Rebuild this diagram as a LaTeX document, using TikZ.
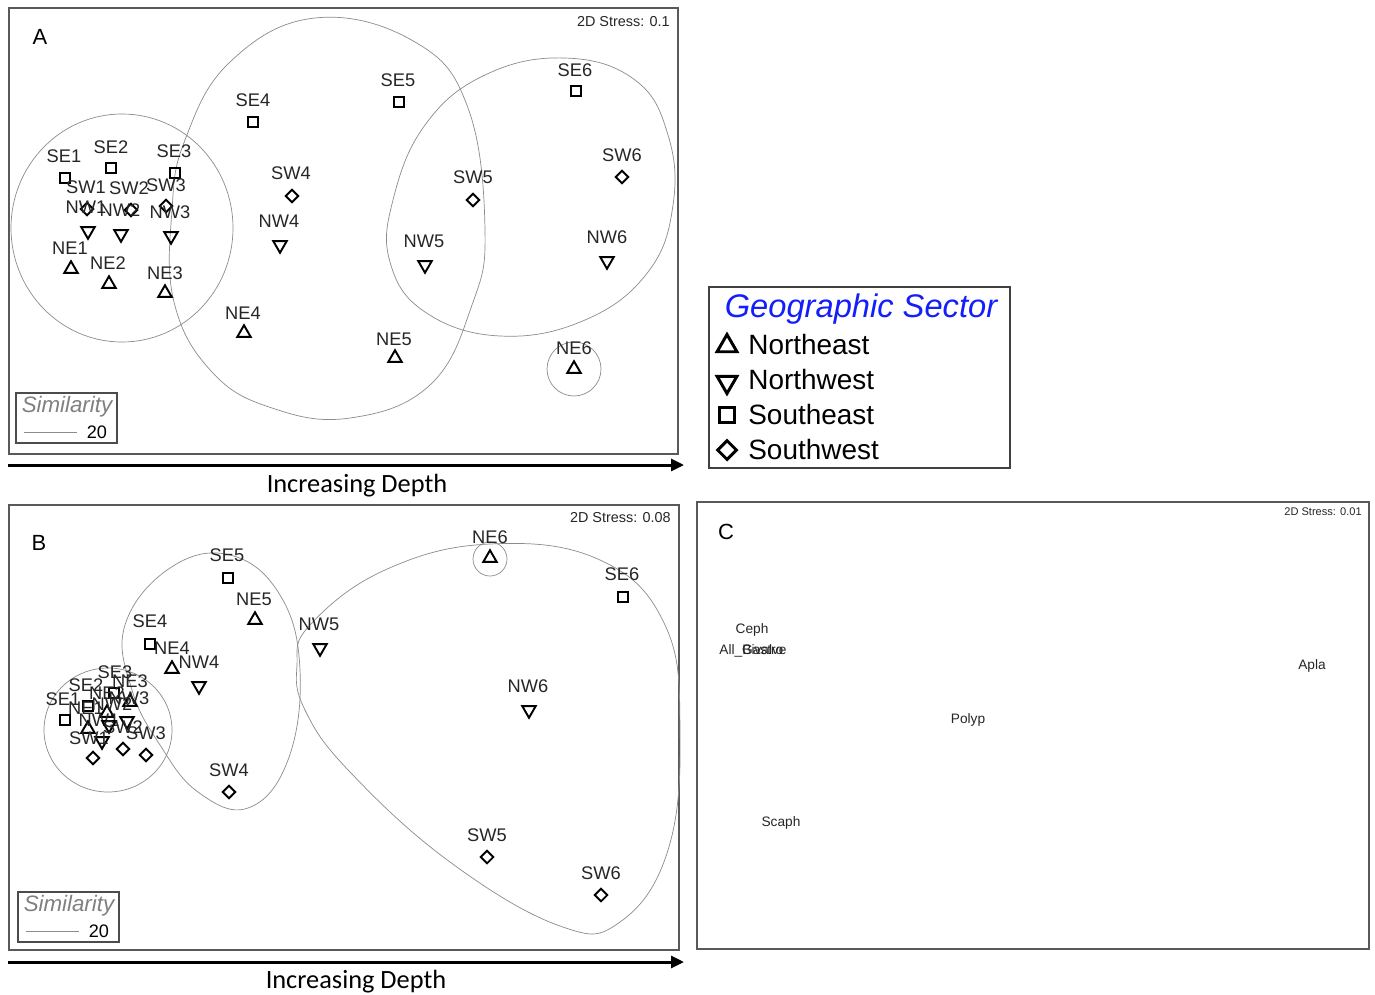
\documentclass[tikz,border=0pt]{standalone}
\usepackage{fontspec}
\setmainfont{Liberation Sans}
\newfontfamily\calfont{Carlito}
\usetikzlibrary{shapes.geometric,arrows.meta}
\definecolor{sectorblue}{RGB}{20,30,250}
\tikzset{
 panel/.style={draw=black!65,line width=0.6pt},
 clus/.style={draw=black!45,line width=0.4pt},
 ne/.style={draw,line width=1.1pt,regular polygon,regular polygon sides=3,minimum size=0.31cm,inner sep=0pt},
 nw/.style={ne,shape border rotate=180},
 se/.style={draw,line width=1.1pt,rectangle,minimum size=0.2cm,inner sep=0pt},
 sw/.style={draw,line width=1.1pt,diamond,minimum size=0.27cm,inner sep=0pt},
 lbl/.style={inner sep=0pt,text=black!85,font=\fontsize{10.4}{12}\selectfont},
 taxon/.style={inner sep=0pt,anchor=base,text=black!85,font=\fontsize{7.8}{9}\selectfont},
 stress/.style={inner sep=0pt,anchor=base east,text=black!85,font=\fontsize{8.2}{10}\selectfont},
 letter/.style={inner sep=0pt,font=\fontsize{12.5}{14}\selectfont},
 depth/.style={line width=1.7pt,-{Triangle[length=0.26cm,width=0.24cm]}},
 depthlbl/.style={inner sep=0pt,anchor=base,font=\calfont\fontsize{15}{18}\selectfont},
 simbox/.style={draw=black!70,line width=0.6pt,minimum width=2.02cm,minimum height=1cm,inner sep=0pt},
 simtxt/.style={inner sep=0pt,anchor=base,text=black!50,font=\fontsize{12.7}{15}\itshape},
 legsym/.style={line width=1.7pt},
 legtxt/.style={inner sep=0pt,anchor=west,font=\fontsize{15.9}{18}\selectfont}
}
\begin{document}
\begin{tikzpicture}[x=0.02cm,y=-0.02cm]
 \useasboundingbox[fill=white] (0,0) rectangle (1375,994);
 % panel A
 \draw[panel] (9,8) rectangle (678,454);
 \node[letter] (a-tag) at (40,37) {A};
 \node[stress] (a-stress) at (670,26) {2D Stress: 0.1};
 \draw[clus] (122,228) ellipse [x radius=111,y radius=114];
 \draw[clus] plot[smooth cycle,tension=0.7] coordinates {(185,140) (230,62) (315,18) (415,42) (468,108) (485,230) (472,305) (430,385) (350,418) (272,408) (212,372) (174,302) (172,210)};
 \draw[clus] plot[smooth cycle,tension=0.7] coordinates {(393,200) (425,125) (485,75) (565,58) (635,80) (668,135) (673,205) (648,272) (585,320) (500,336) (425,312) (390,262)};
 \draw[clus] (574,369) circle [radius=27];
 \node[se] (a-se1) at (65,178) {}; \node[lbl] (a-se1-t) at (64,156) {SE1};
 \node[se] (a-se2) at (111,168) {}; \node[lbl] (a-se2-t) at (111,147) {SE2};
 \node[se] (a-se3) at (175,173) {}; \node[lbl] (a-se3-t) at (174,151) {SE3};
 \node[sw] (a-sw1) at (87,209) {}; \node[lbl] (a-sw1-t) at (86,187) {SW1};
 \node[sw] (a-sw2) at (131,210) {}; \node[lbl] (a-sw2-t) at (129,188) {SW2};
 \node[sw] (a-sw3) at (166,206) {}; \node[lbl] (a-sw3-t) at (166,185) {SW3};
 \node[nw] (a-nw1) at (88,231) {}; \node[lbl] (a-nw1-t) at (86,207) {NW1};
 \node[nw] (a-nw2) at (121,234) {}; \node[lbl] (a-nw2-t) at (120,210) {NW2};
 \node[nw] (a-nw3) at (171,236) {}; \node[lbl] (a-nw3-t) at (170,212) {NW3};
 \node[ne] (a-ne1) at (71,269) {}; \node[lbl] (a-ne1-t) at (70,248) {NE1};
 \node[ne] (a-ne2) at (109,284) {}; \node[lbl] (a-ne2-t) at (108,263) {NE2};
 \node[ne] (a-ne3) at (165,293) {}; \node[lbl] (a-ne3-t) at (165,273) {NE3};
 \node[se] (a-se4) at (253,122) {}; \node[lbl] (a-se4-t) at (253,100) {SE4};
 \node[sw] (a-sw4) at (292,196) {}; \node[lbl] (a-sw4-t) at (291,173) {SW4};
 \node[nw] (a-nw4) at (280,245) {}; \node[lbl] (a-nw4-t) at (279,221) {NW4};
 \node[ne] (a-ne4) at (244,333) {}; \node[lbl] (a-ne4-t) at (243,313) {NE4};
 \node[se] (a-se5) at (399,102) {}; \node[lbl] (a-se5-t) at (398,80) {SE5};
 \node[ne] (a-ne5) at (395,358) {}; \node[lbl] (a-ne5-t) at (394,339) {NE5};
 \node[sw] (a-sw5) at (473,200) {}; \node[lbl] (a-sw5-t) at (473,177) {SW5};
 \node[nw] (a-nw5) at (425,265) {}; \node[lbl] (a-nw5-t) at (424,241) {NW5};
 \node[se] (a-se6) at (576,91) {}; \node[lbl] (a-se6-t) at (575,70) {SE6};
 \node[sw] (a-sw6) at (622,177) {}; \node[lbl] (a-sw6-t) at (622,155) {SW6};
 \node[nw] (a-nw6) at (607,261) {}; \node[lbl] (a-nw6-t) at (607,237) {NW6};
 \node[ne] (a-ne6) at (574,369) {}; \node[lbl] (a-ne6-t) at (574,348) {NE6};
 \node[simbox] (a-sim) at (66.5,418) {};
 \node[simtxt] (a-sim-t) at (67,412) {Similarity};
 \draw[black!45,line width=0.4pt] (24,432) -- (77,432);
 \node[inner sep=0pt,anchor=base,font=\fontsize{10.3}{12}\selectfont] (a-sim-v) at (97,438) {20};
 \coordinate (da0) at (8,465); \coordinate (da1) at (684,465);
 \draw[depth] (da0) -- (da1);
 \node[depthlbl] (da-t) at (357,492) {Increasing Depth};
 % legend
 \draw[panel,draw=black!75] (709,287) rectangle (1010,468);
 \node[inner sep=0pt,anchor=base,text=sectorblue,font=\fontsize{18.6}{22}\itshape] (leg-t) at (861,317) {Geographic Sector};
 \node[ne,legsym,minimum size=0.46cm] (leg-ne) at (727,346) {}; \node[legtxt] (leg-ne-t) at (748,345) {Northeast};
 \node[nw,legsym,minimum size=0.46cm] (leg-nw) at (727,382) {}; \node[legtxt] (leg-nw-t) at (748,380) {Northwest};
 \node[se,legsym,minimum size=0.3cm] (leg-se) at (727,415) {}; \node[legtxt] (leg-se-t) at (748,415) {Southeast};
 \node[sw,legsym,minimum size=0.4cm] (leg-sw) at (727,450) {}; \node[legtxt] (leg-sw-t) at (748,450) {Southwest};
 % panel B
 \draw[panel] (9,505) rectangle (679,950);
 \node[letter] (b-tag) at (39,543) {B};
 \node[stress] (b-stress) at (671,522) {2D Stress: 0.08};
 \draw[clus] (108,730) ellipse [x radius=64,y radius=62];
 \draw[clus] plot[smooth cycle,tension=0.7] coordinates {(125,625) (170,568) (230,555) (280,595) (300,670) (288,760) (248,808) (198,792) (160,745) (132,690)};
 \draw[clus] plot[smooth cycle,tension=0.7] coordinates {(310,625) (385,570) (490,544) (600,560) (665,625) (680,730) (668,850) (620,922) (560,926) (450,862) (350,772) (305,710) (297,665)};
 \draw[clus] (490,559) circle [radius=17];
 \node[se] (b-se5) at (228,578) {}; \node[lbl] (b-se5-t) at (227,555) {SE5};
 \node[ne] (b-ne5) at (255,620) {}; \node[lbl] (b-ne5-t) at (254,599) {NE5};
 \node[se] (b-se4) at (150,644) {}; \node[lbl] (b-se4-t) at (150,621) {SE4};
 \node[ne] (b-ne4) at (172,669) {}; \node[lbl] (b-ne4-t) at (172,648) {NE4};
 \node[nw] (b-nw4) at (199,686) {}; \node[lbl] (b-nw4-t) at (199,662) {NW4};
 \node[nw] (b-nw5) at (320,648) {}; \node[lbl] (b-nw5-t) at (319,624) {NW5};
 \node[ne] (b-ne6) at (490,558) {}; \node[lbl] (b-ne6-t) at (490,537) {NE6};
 \node[se] (b-se6) at (623,597) {}; \node[lbl] (b-se6-t) at (622,574) {SE6};
 \node[nw] (b-nw6) at (529,710) {}; \node[lbl] (b-nw6-t) at (528,686) {NW6};
 \node[sw] (b-sw4) at (229,792) {}; \node[lbl] (b-sw4-t) at (229,770) {SW4};
 \node[sw] (b-sw5) at (487,857) {}; \node[lbl] (b-sw5-t) at (487,835) {SW5};
 \node[sw] (b-sw6) at (601,895) {}; \node[lbl] (b-sw6-t) at (601,873) {SW6};
 \node[se] (b-se1) at (65,720) {}; \node[lbl] (b-se1-t) at (63,699) {SE1};
 \node[se] (b-se2) at (88,706) {}; \node[lbl] (b-se2-t) at (86,685) {SE2};
 \node[se] (b-se3) at (114,693) {}; \node[lbl] (b-se3-t) at (115,672) {SE3};
 \node[ne] (b-ne1) at (88,729) {}; \node[lbl] (b-ne1-t) at (86,708) {NE1};
 \node[ne] (b-ne2) at (107,713) {}; \node[lbl] (b-ne2-t) at (107,693) {NE2};
 \node[ne] (b-ne3) at (130,702) {}; \node[lbl] (b-ne3-t) at (130,681) {NE3};
 \node[nw] (b-nw1) at (102,741) {}; \node[lbl] (b-nw1-t) at (99,720) {NW1};
 \node[nw] (b-nw2) at (109,725) {}; \node[lbl] (b-nw2-t) at (112,704) {NW2};
 \node[nw] (b-nw3) at (127,721) {}; \node[lbl] (b-nw3-t) at (129,698) {NW3};
 \node[sw] (b-sw1) at (93,758) {}; \node[lbl] (b-sw1-t) at (89,738) {SW1};
 \node[sw] (b-sw2) at (123,749) {}; \node[lbl] (b-sw2-t) at (123,727) {SW2};
 \node[sw] (b-sw3) at (146,755) {}; \node[lbl] (b-sw3-t) at (146,733) {SW3};
 \node[simbox] (b-sim) at (68.5,917) {};
 \node[simtxt] (b-sim-t) at (69,911) {Similarity};
 \draw[black!45,line width=0.4pt] (26,931) -- (79,931);
 \node[inner sep=0pt,anchor=base,font=\fontsize{10.3}{12}\selectfont] (b-sim-v) at (99,937) {20};
 \coordinate (db0) at (8,962); \coordinate (db1) at (684,962);
 \draw[depth] (db0) -- (db1);
 \node[depthlbl] (db-t) at (356,988) {Increasing Depth};
 % panel C
 \draw[panel] (697,502) rectangle (1369,949);
 \node[letter] (c-tag) at (726,532) {C};
 \node[stress,font=\fontsize{6.3}{8}\selectfont] (c-stress) at (1362,515) {2D Stress: 0.01};
 \node[taxon] (c-ceph) at (752,633) {Ceph};
 \node[taxon,anchor=base west] (c-gastro) at (719,654) {All\_Gastro};
 \node[taxon,anchor=base west] (c-biva) at (742,654) {Bivalve};
 \node[taxon] (c-apla) at (1312,669) {Apla};
 \node[taxon] (c-polyp) at (968,723) {Polyp};
 \node[taxon] (c-scaph) at (781,826) {Scaph};
\end{tikzpicture}
\end{document}
